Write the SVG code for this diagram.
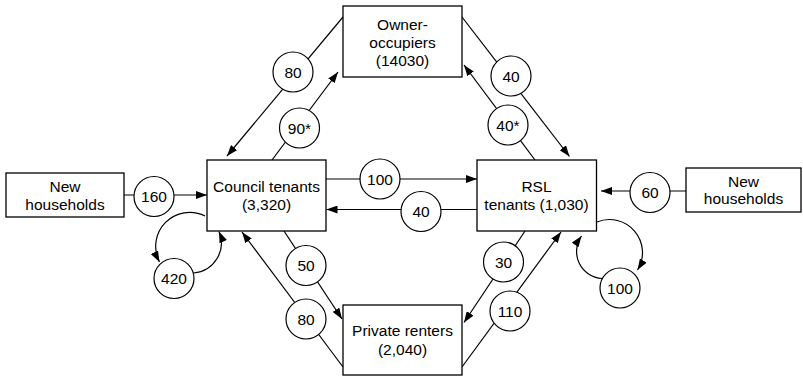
<svg xmlns="http://www.w3.org/2000/svg" width="803" height="378" viewBox="0 0 803 378">
<style>
.box{fill:#fff;stroke:#000;stroke-width:1.3}
.c{fill:#fff;stroke:#000;stroke-width:1.2}
.t{font-family:"Liberation Sans",Arial,sans-serif;font-size:15.5px;fill:#000;text-anchor:middle}
.ln{fill:none;stroke:#000;stroke-width:1.2}
.ar{marker-end:url(#ah)}
</style>
<defs>
<marker id="ah" markerUnits="userSpaceOnUse" markerWidth="11" markerHeight="8" refX="11" refY="4" orient="auto">
<path d="M0,0 L11,4 L0,8 z" fill="#000"/>
</marker>
</defs>
<g id="connectors">
<line class="ln ar" x1="343" y1="17" x2="227" y2="156"/>
<line class="ln ar" x1="272" y1="160" x2="338" y2="72"/>
<line class="ln ar" x1="462" y1="17" x2="569.5" y2="156.5"/>
<line class="ln ar" x1="535" y1="160" x2="464" y2="65"/>
<line class="ln ar" x1="326" y1="179" x2="477" y2="179"/>
<line class="ln ar" x1="477" y1="209.5" x2="326.5" y2="209.5"/>
<line class="ln ar" x1="124" y1="195" x2="207" y2="195"/>
<line class="ln ar" x1="686" y1="191" x2="601" y2="191"/>
<line class="ln ar" x1="284" y1="231" x2="342" y2="319"/>
<line class="ln ar" x1="343" y1="367" x2="242" y2="232"/>
<line class="ln ar" x1="525" y1="231" x2="464" y2="322.5"/>
<line class="ln ar" x1="462" y1="367" x2="561" y2="232"/>
<path class="ln ar" d="M205,216 A34,34 0 0 0 159.5,262"/>
<path class="ln ar" d="M193.5,273 A30,30 0 0 0 219,231.5"/>
<path class="ln ar" d="M597,222 A33,33 0 0 1 637.5,270"/>
<path class="ln ar" d="M602,278.5 A27,27 0 0 1 581.5,236"/>
</g>
<g id="owner"><rect class="box" x="343" y="6" width="119" height="71"/>
<text class="t" x="402.5" y="29.5">Owner-</text><text class="t" x="402.5" y="47.5">occupiers</text><text class="t" x="402.5" y="65.5">(14030)</text></g>
<g id="council"><rect class="box" x="207" y="160" width="119" height="71"/>
<text class="t" x="266.5" y="191.5">Council tenants</text><text class="t" x="266.5" y="209.5">(3,320)</text></g>
<g id="rsl"><rect class="box" x="477" y="160" width="119.5" height="71"/>
<text class="t" x="536.5" y="191.5">RSL</text><text class="t" x="536.5" y="209.5">tenants (1,030)</text></g>
<g id="private"><rect class="box" x="343" y="305" width="119" height="70"/>
<text class="t" x="402.5" y="336">Private renters</text><text class="t" x="402.5" y="354.5">(2,040)</text></g>
<g id="new-left"><rect class="box" x="6" y="173" width="118" height="44"/>
<text class="t" x="65" y="192">New</text><text class="t" x="65" y="209.5">households</text></g>
<g id="new-right"><rect class="box" x="686" y="168" width="115" height="44"/>
<text class="t" x="743.5" y="186.5">New</text><text class="t" x="743.5" y="204">households</text></g>
<g id="f80a"><circle class="c" cx="293" cy="72" r="20"/><text class="t" x="293" y="77.5">80</text></g>
<g id="f90"><circle class="c" cx="299.5" cy="128" r="20"/><text class="t" x="299.5" y="133.5">90*</text></g>
<g id="f40a"><circle class="c" cx="511" cy="76" r="20"/><text class="t" x="511" y="81.5">40</text></g>
<g id="f40b"><circle class="c" cx="508" cy="125" r="20"/><text class="t" x="508" y="130.5">40*</text></g>
<g id="f100a"><circle class="c" cx="380" cy="179" r="20"/><text class="t" x="380" y="184.5">100</text></g>
<g id="f40c"><circle class="c" cx="421" cy="211.5" r="20"/><text class="t" x="421" y="217">40</text></g>
<g id="f160"><circle class="c" cx="154" cy="196.5" r="20"/><text class="t" x="154" y="202">160</text></g>
<g id="f60"><circle class="c" cx="650" cy="192.5" r="20"/><text class="t" x="650" y="198">60</text></g>
<g id="f420"><circle class="c" cx="174" cy="278.5" r="20"/><text class="t" x="174" y="284">420</text></g>
<g id="f100b"><circle class="c" cx="620" cy="288" r="20"/><text class="t" x="620" y="293.5">100</text></g>
<g id="f50"><circle class="c" cx="306" cy="265.5" r="20"/><text class="t" x="306" y="271">50</text></g>
<g id="f80b"><circle class="c" cx="306" cy="319" r="20"/><text class="t" x="306" y="324.5">80</text></g>
<g id="f30"><circle class="c" cx="503.5" cy="262" r="20"/><text class="t" x="503.5" y="267.5">30</text></g>
<g id="f110"><circle class="c" cx="510" cy="311" r="20"/><text class="t" x="510" y="316.5">110</text></g>
</svg>
